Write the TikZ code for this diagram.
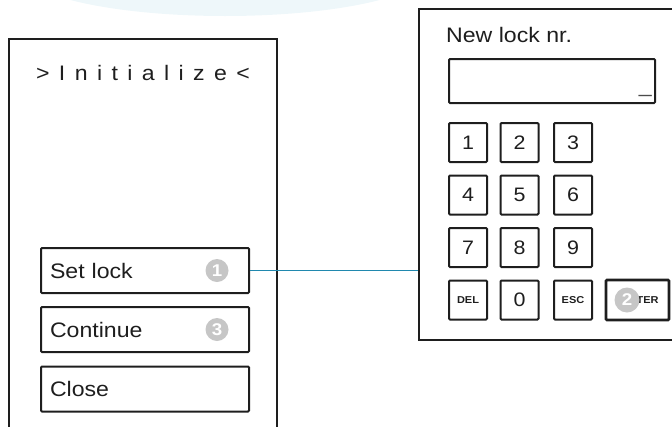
\documentclass[tikz,border=0pt]{standalone}
\usepackage{fontspec}
\setmainfont{Liberation Sans}[FakeStretch=1.1]
\definecolor{ink}{HTML}{1E1E1E}
\definecolor{wire}{HTML}{2088AE}
\definecolor{badgegray}{HTML}{C6C6C6}
\definecolor{haze}{HTML}{EEF7FA}
% widened gap for the letter-spaced heading
\newcommand\gapsp{\hspace{9.4pt}}
\begin{document}
\begin{tikzpicture}[x=1pt,y=-1pt,
  every node/.style={text=ink},
  panel/.style={draw=ink, line width=1.8pt, inner sep=0pt},
  frame/.style={draw=ink, line width=2pt, rounded corners=1pt, inner sep=0pt},
  button/.style={frame, minimum width=208pt, minimum height=45pt,
    text width=190pt, align=left, inner xsep=9pt,
    font=\fontsize{21}{21}\selectfont},
  key/.style={frame, minimum width=38pt, minimum height=39pt,
    font=\fontsize{19.5}{19.5}\selectfont},
  smallkey/.style={key, font=\fontsize{10}{10}\selectfont\bfseries},
  badge/.style={circle, fill=badgegray, text=white, inner sep=0pt,
    minimum size=23pt, font=\fontsize{17}{17}\selectfont\bfseries},
  label/.style={inner sep=0pt, font=\fontsize{21}{21}\selectfont},
]
\useasboundingbox (0,0) rectangle (672,426);
\clip (0,0) rectangle (672,426);

% soft background shape at the top
\fill[haze] (225,-30) ellipse [x radius=204pt, y radius=46pt];

% initialisation screen
\node[panel, minimum width=268pt, minimum height=400pt] (initpanel) at (143,239) {};
\node[label, anchor=base] (title) at (143,80)
  {>\gapsp I\gapsp n\gapsp i\gapsp t\gapsp i\gapsp a\gapsp l\gapsp i\gapsp z\gapsp e\gapsp <};
\node[button] (setlock) at (145,270.5) {Set lock};
\node[button] (continue) at (145,329.5) {Continue};
\node[button] (close) at (145,389) {Close};
\node[badge] (b1) at (217,270.5) {1};
\node[badge] (b3) at (217,329.5) {3};

% lock number entry screen
\node[panel, minimum width=271pt, minimum height=331pt] (lockpanel) at (554.5,174.5) {};
\node[label, anchor=base west] (caption) at (446,42) {New lock nr.};
\node[frame, minimum width=206pt, minimum height=44pt] (display) at (552,81) {};
\node[label, anchor=base east, text=ink!80] (cursor) at (652,92) {\_};

\node[key] (k1) at (468,142.5) {1};
\node[key] (k2) at (519.5,142.5) {2};
\node[key] (k3) at (573,142.5) {3};
\node[key] (k4) at (468,195) {4};
\node[key] (k5) at (519.5,195) {5};
\node[key] (k6) at (573,195) {6};
\node[key] (k7) at (468,247.5) {7};
\node[key] (k8) at (519.5,247.5) {8};
\node[key] (k9) at (573,247.5) {9};
\node[smallkey] (kdel) at (468,300) {DEL};
\node[key] (k0) at (519.5,300) {0};
\node[smallkey] (kesc) at (573,300) {ESC};
\node[frame, line width=2.8pt, minimum width=63pt, minimum height=40pt,
  font=\fontsize{10}{10}\selectfont\bfseries] (enter) at (637.5,300) {\hspace*{5pt}ENTER};
\node[badge, minimum size=25pt] (b2) at (627,300) {2};

% link from the button to the screen it opens
\draw[wire, line width=1.4pt] (setlock.east) -- (setlock.east -| lockpanel.west);
\end{tikzpicture}
\end{document}
